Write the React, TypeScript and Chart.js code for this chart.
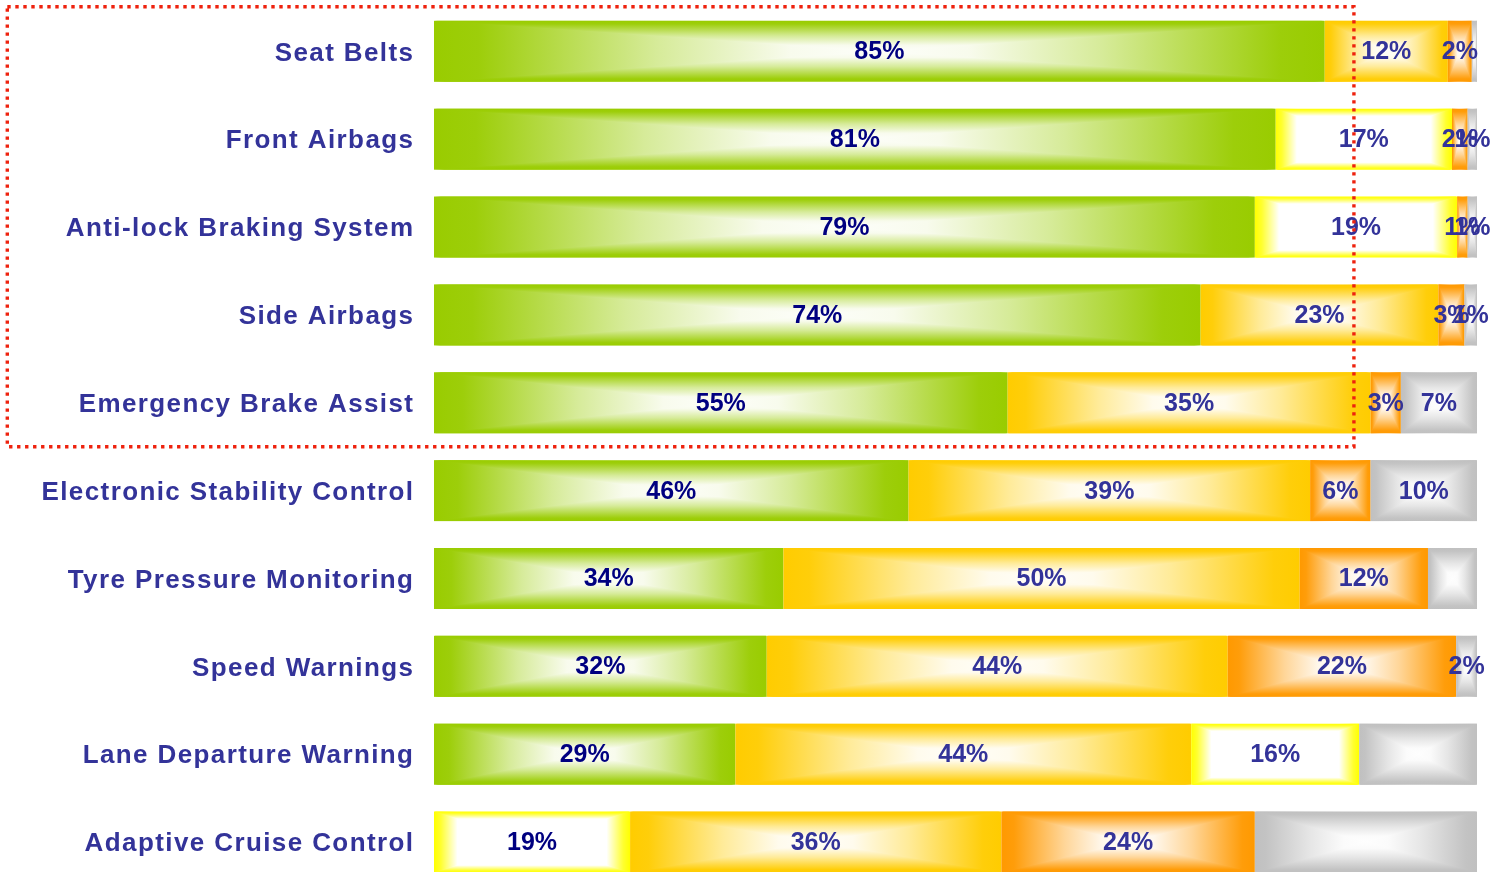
import React, { useEffect, useRef } from 'react';
import { Chart, registerables } from 'chart.js';

Chart.register(...registerables);

const categories = [
  'Seat Belts',
  'Front Airbags',
  'Anti-lock Braking System',
  'Side Airbags',
  'Emergency Brake Assist',
  'Electronic Stability Control',
  'Tyre Pressure Monitoring',
  'Speed Warnings',
  'Lane Departure Warning',
  'Adaptive Cruise Control',
];

const series1 = [85.4, 80.7, 78.7, 73.5, 55.0, 45.5, 33.5, 31.9, 28.9, 18.8];
const series2 = [11.8, 16.9, 19.4, 22.8, 34.8, 38.5, 49.5, 44.2, 43.7, 35.6];
const series3 = [2.3, 1.5, 1.0, 2.5, 2.9, 5.8, 12.3, 21.9, 16.1, 24.3];
const series4 = [0.5, 0.9, 0.9, 1.2, 7.3, 10.2, 4.7, 2.0, 11.3, 21.3];

const seriesColors = ['#99CC00', '#FFCC00', '#FF9900', '#C0C0C0'];
const labelColors = ['#000080', '#333399', '#333399', '#333399'];
// [datasetIndex, categoryIndex] points drawn with the yellow-white fill
const yellowPoints: [number, number][] = [[0, 9], [1, 1], [1, 2], [2, 8]];
// [datasetIndex, categoryIndex] points without a value label
const hiddenLabels: [number, number][] = [[3, 0], [3, 6], [3, 8], [3, 9]];

const FONT = '"Liberation Sans", Arial, Helvetica, sans-serif';

function hexToRgb(hex: string) {
  const h = hex.replace('#', '');
  return [parseInt(h.slice(0, 2), 16), parseInt(h.slice(2, 4), 16), parseInt(h.slice(4, 6), 16)];
}
function mix(hex: string, t: number) {
  const [r, g, b] = hexToRgb(hex);
  const m = (c: number) => Math.round(c + (255 - c) * t);
  return `rgb(${m(r)},${m(g)},${m(b)})`;
}
function stopsFor(color: string, yellow: boolean): [number, string][] {
  if (yellow) {
    return [[0, '#FFFF00'], [0.07, '#FFFF30'], [0.24, '#FFFFFF'], [1, '#FFFFFF']];
  }
  return [
    [0, color],
    [0.1, mix(color, 0.04)],
    [0.5, mix(color, 0.6)],
    [0.8, mix(color, 0.93)],
    [1, mix(color, 0.98)],
  ];
}

function paintRect(ctx: CanvasRenderingContext2D, x0: number, y0: number, x1: number, y1: number, stops: [number, string][]) {
  const cx = (x0 + x1) / 2;
  const cy = (y0 + y1) / 2;
  const grad = (ax: number, ay: number, bx: number, by: number) => {
    const g = ctx.createLinearGradient(ax, ay, bx, by);
    stops.forEach(([t, c]) => g.addColorStop(t, c));
    return g;
  };
  ctx.fillStyle = grad(x0, 0, cx, 0);
  ctx.fillRect(x0, y0, cx - x0, y1 - y0);
  ctx.fillStyle = grad(x1, 0, cx, 0);
  ctx.fillRect(cx, y0, x1 - cx, y1 - y0);
  ctx.beginPath();
  ctx.moveTo(x0, y0);
  ctx.lineTo(x1, y0);
  ctx.lineTo(cx, cy);
  ctx.closePath();
  ctx.fillStyle = grad(0, y0, 0, cy);
  ctx.fill();
  ctx.beginPath();
  ctx.moveTo(x0, y1);
  ctx.lineTo(x1, y1);
  ctx.lineTo(cx, cy);
  ctx.closePath();
  ctx.fillStyle = grad(0, y1, 0, cy);
  ctx.fill();
}

const isIn = (list: [number, number][], d: number, i: number) => list.some(([a, b]) => a === d && b === i);

const paintPlugin = {
  id: 'paintPlugin',
  beforeDraw(chart: any) {
    chart.ctx.letterSpacing = '1.4px';
  },
  afterDatasetsDraw(chart: any) {
    const ctx: CanvasRenderingContext2D = chart.ctx;
    ctx.save();
    (ctx as any).letterSpacing = '0px';
    const boxes: any[] = [];
    chart.data.datasets.forEach((_ds: any, di: number) => {
      const meta = chart.getDatasetMeta(di);
      meta.data.forEach((el: any, i: number) => {
        const p = el.getProps(['x', 'y', 'base', 'height'], true);
        const x0 = Math.min(p.x, p.base);
        const x1 = Math.max(p.x, p.base);
        const y0 = p.y - p.height / 2;
        const y1 = p.y + p.height / 2;
        if (x1 - x0 <= 0) return;
        paintRect(ctx, x0, y0, x1, y1, stopsFor(seriesColors[di], isIn(yellowPoints, di, i)));
        boxes.push({ di, i, cx: (x0 + x1) / 2, cy: p.y });
      });
    });
    ctx.font = `bold 25px ${FONT}`;
    ctx.textAlign = 'center';
    ctx.textBaseline = 'middle';
    boxes.forEach(({ di, i, cx, cy }) => {
      if (isIn(hiddenLabels, di, i)) return;
      const v = chart.data.datasets[di].data[i];
      ctx.fillStyle = labelColors[di];
      ctx.fillText(`${Math.round(v)}%`, cx, cy + 1);
    });
    ctx.restore();
  },
  afterDraw(chart: any) {
    const ctx: CanvasRenderingContext2D = chart.ctx;
    const xs = chart.scales.x;
    const ys = chart.scales.y;
    const right = xs.getPixelForValue(88.2);
    const bottom = (ys.getPixelForValue(4) + ys.getPixelForValue(5)) / 2;
    const top = chart.chartArea.top - 0.6;
    const left = 7.3;
    ctx.save();
    (ctx as any).letterSpacing = '0px';
    ctx.strokeStyle = 'rgb(238,34,14)';
    ctx.lineWidth = 3.4;
    ctx.setLineDash([3.4, 4.6]);
    ctx.lineCap = 'butt';
    ctx.strokeRect(left, top, right - left, bottom - top);
    ctx.restore();
  },
};

export default function App() {
  const ref = useRef<HTMLCanvasElement>(null);
  useEffect(() => {
    document.body.style.margin = '0';
    const canvas = ref.current!;
    const chart = new Chart(canvas, {
      type: 'bar',
      data: {
        labels: categories,
        datasets: [series1, series2, series3, series4].map((d, k) => ({
          label: `S${k + 1}`,
          data: d,
          backgroundColor: 'rgba(0,0,0,0)',
          borderWidth: 0,
          categoryPercentage: 1,
          barPercentage: 0.694,
        })),
      },
      options: {
        indexAxis: 'y',
        animation: false,
        responsive: false,
        devicePixelRatio: 1,
        layout: { padding: { top: 7.4, bottom: 14, left: 0, right: 26 } },
        plugins: { legend: { display: false }, tooltip: { enabled: false } },
        scales: {
          x: { stacked: true, min: 0, max: 100, display: false },
          y: {
            stacked: true,
            grid: { display: false, drawTicks: false },
            border: { display: false },
            afterFit: (s: any) => {
              s.width = 434;
              s.paddingTop = 0;
              s.paddingBottom = 0;
            },
            ticks: {
              autoSkip: false,
              padding: 19.6,
              labelOffset: 2,
              color: '#333399',
              font: { family: FONT, size: 26, weight: 'bold' },
            },
          },
        },
      } as any,
      plugins: [paintPlugin as any],
    });
    return () => chart.destroy();
  }, []);
  return (
    <div style={{ width: 1503, height: 872, overflow: 'hidden', position: 'relative' }}>
      <canvas ref={ref} width={1503} height={900} style={{ display: 'block', width: 1503, height: 900 }} />
    </div>
  );
}
